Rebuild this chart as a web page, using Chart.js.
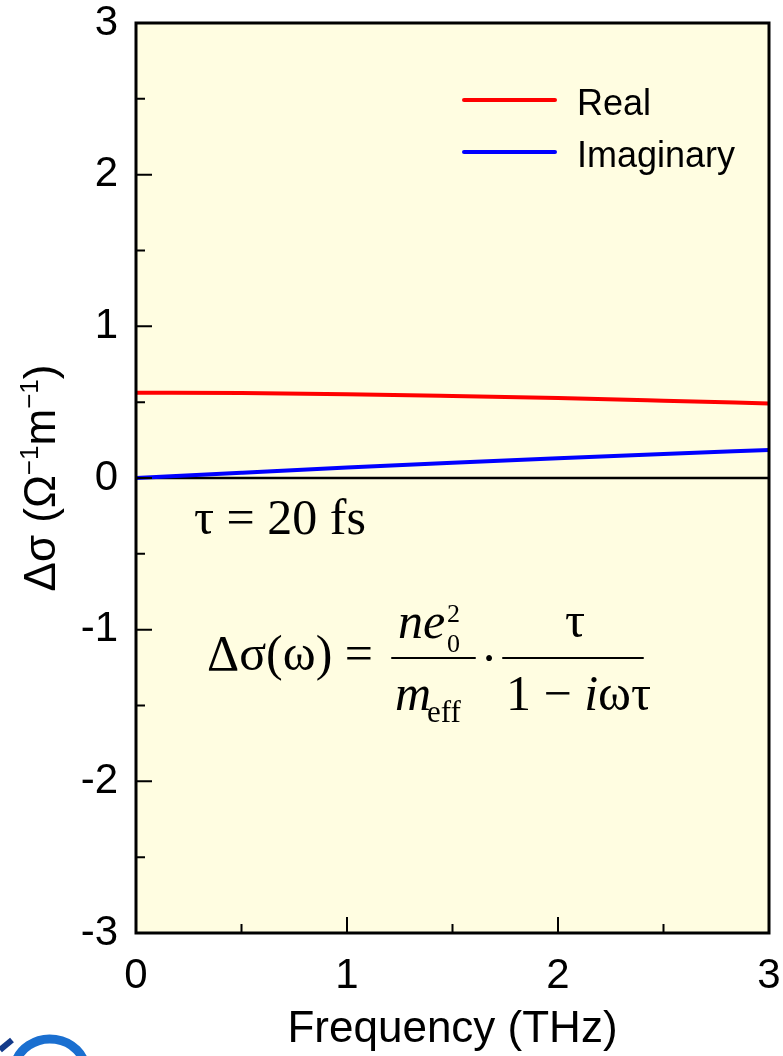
<!DOCTYPE html>
<html>
<head>
<meta charset="utf-8">
<script src="https://cdn.jsdelivr.net/npm/chart.js@4.4.0/dist/chart.umd.min.js"></script>
<style>
  html, body { margin: 0; padding: 0; background: #fff; }
  #wrap { width: 783px; height: 1056px; }
</style>
</head>
<body>
<div id="wrap"><canvas id="sigmaChart" width="783" height="1056"></canvas></div>
<script>
// Drude conductivity change, tau = 20 fs
const freqTHz = [0, 0.5, 1, 1.5, 2, 2.5, 3];
const realPart = [0.562, 0.560, 0.553, 0.541, 0.527, 0.510, 0.492];
const imagPart = [0.000, 0.035, 0.069, 0.101, 0.131, 0.159, 0.185];
const seriesLabels = ['Real', 'Imaginary'];
const seriesColors = ['#ff0000', '#0000ff'];

const xTickValues = [0, 1, 2, 3];
const yTickValues = [-3, -2, -1, 0, 1, 2, 3];
const xMinorTicks = [0.5, 1.5, 2.5];
const yMinorTicks = [-2.5, -1.5, -0.5, 0.5, 1.5, 2.5];

const SANS = '"Liberation Sans", Arial, sans-serif';
const SERIF = '"Liberation Serif", "Times New Roman", serif';

const toPoints = (xs, ys) => xs.map((x, i) => ({ x: x, y: ys[i] }));

// yellow plot background + zero line under the curves
const backdropPlugin = {
  id: 'backdrop',
  beforeDraw(chart) {
    const { ctx, chartArea: a } = chart;
    ctx.save();
    ctx.fillStyle = '#fffde1';
    ctx.fillRect(a.left, a.top, a.right - a.left, a.bottom - a.top);
    ctx.restore();
  },
  beforeDatasetsDraw(chart) {
    const { ctx, chartArea: a, scales } = chart;
    const y0 = scales.y.getPixelForValue(0);
    ctx.save();
    ctx.strokeStyle = '#000';
    ctx.lineWidth = 2.5;
    ctx.beginPath();
    ctx.moveTo(a.left, y0);
    ctx.lineTo(a.right, y0);
    ctx.stroke();
    ctx.restore();
  }
};

// box frame and inward ticks on left / bottom
const framePlugin = {
  id: 'frame',
  afterDatasetsDraw(chart) {
    const { ctx, chartArea: a, scales } = chart;
    ctx.save();
    ctx.strokeStyle = '#000';
    ctx.lineWidth = 2;
    ctx.beginPath();
    xTickValues.forEach(v => {
      const px = scales.x.getPixelForValue(v);
      ctx.moveTo(px, a.bottom); ctx.lineTo(px, a.bottom - 16);
    });
    xMinorTicks.forEach(v => {
      const px = scales.x.getPixelForValue(v);
      ctx.moveTo(px, a.bottom); ctx.lineTo(px, a.bottom - 9);
    });
    yTickValues.forEach(v => {
      const py = scales.y.getPixelForValue(v);
      ctx.moveTo(a.left, py); ctx.lineTo(a.left + 16, py);
    });
    yMinorTicks.forEach(v => {
      const py = scales.y.getPixelForValue(v);
      ctx.moveTo(a.left, py); ctx.lineTo(a.left + 9, py);
    });
    ctx.stroke();
    ctx.lineWidth = 3;
    ctx.strokeRect(a.left, a.top, a.right - a.left, a.bottom - a.top);
    ctx.restore();
  }
};

// legend, y title, annotations and formula
const textPlugin = {
  id: 'texts',
  afterDraw(chart) {
    const ctx = chart.ctx;
    ctx.save();
    ctx.fillStyle = '#000';

    // legend
    chart.data.datasets.forEach((ds, i) => {
      const ly = 100 + i * 52;
      ctx.strokeStyle = ds.borderColor;
      ctx.lineWidth = 4;
      ctx.lineCap = 'round';
      ctx.beginPath();
      ctx.moveTo(464, ly); ctx.lineTo(555, ly);
      ctx.stroke();
      ctx.font = '36px ' + SANS;
      ctx.textAlign = 'left';
      ctx.textBaseline = 'alphabetic';
      ctx.fillText(ds.label, 577, ly + 15);
    });

    // rotated y-axis title with superscripts
    const big = '44px ' + SANS, small = '26px ' + SANS;
    const parts = [
      ['Δσ (Ω', big, 0], ['−1', small, -17], ['m', big, 0], ['−1', small, -17], [')', big, 0]
    ];
    let total = 0;
    parts.forEach(p => { ctx.font = p[1]; total += ctx.measureText(p[0]).width; });
    ctx.translate(55, 478);
    ctx.rotate(-Math.PI / 2);
    let cx = -total / 2;
    parts.forEach(p => {
      ctx.font = p[1];
      ctx.fillText(p[0], cx, p[2]);
      cx += ctx.measureText(p[0]).width;
    });
    ctx.setTransform(1, 0, 0, 1, 0, 0);

    // tau annotation
    ctx.font = '50px ' + SERIF;
    ctx.fillText('τ = 20 fs', 194, 534);

    // Drude formula
    ctx.font = '50px ' + SERIF;
    ctx.fillText('Δσ(ω) =', 207, 670);
    ctx.font = 'italic 50px ' + SERIF;
    ctx.fillText('ne', 398, 638);
    ctx.font = '26px ' + SERIF;
    ctx.fillText('2', 447, 622);
    ctx.fillText('0', 447, 652);
    ctx.font = 'italic 50px ' + SERIF;
    ctx.fillText('m', 395, 710);
    ctx.font = '31px ' + SERIF;
    ctx.fillText('eff', 427, 722);
    ctx.font = '50px ' + SERIF;
    ctx.textAlign = 'center';
    ctx.fillText('·', 489, 675);
    ctx.fillText('τ', 575, 637);
    ctx.textAlign = 'left';
    ctx.fillText('1 −', 506, 710);
    let dx = 506 + ctx.measureText('1 − ').width;
    ctx.font = 'italic 50px ' + SERIF;
    ctx.fillText('i', dx, 710);
    dx += ctx.measureText('i').width;
    ctx.font = '50px ' + SERIF;
    ctx.fillText('ωτ', dx, 710);

    ctx.lineWidth = 2;
    ctx.strokeStyle = '#000';
    ctx.beginPath();
    ctx.moveTo(392, 658); ctx.lineTo(475, 658);
    ctx.moveTo(503, 658); ctx.lineTo(643, 658);
    ctx.stroke();

    // corner logo fragment
    ctx.lineCap = 'butt';
    ctx.strokeStyle = '#1a6fd0';
    ctx.lineWidth = 9;
    ctx.beginPath();
    ctx.ellipse(50, 1072, 36, 33, 0, Math.PI * 1.05, Math.PI * 1.98);
    ctx.stroke();
    ctx.strokeStyle = '#123a8a';
    ctx.lineWidth = 6;
    ctx.beginPath();
    ctx.moveTo(0, 1050); ctx.lineTo(12, 1040);
    ctx.stroke();

    ctx.restore();
  }
};

const ctx = document.getElementById('sigmaChart').getContext('2d');
new Chart(ctx, {
  type: 'line',
  data: {
    datasets: [
      {
        label: seriesLabels[0],
        data: toPoints(freqTHz, realPart),
        borderColor: seriesColors[0],
        borderWidth: 4,
        pointRadius: 0,
        cubicInterpolationMode: 'monotone',
        fill: false
      },
      {
        label: seriesLabels[1],
        data: toPoints(freqTHz, imagPart),
        borderColor: seriesColors[1],
        borderWidth: 4,
        pointRadius: 0,
        cubicInterpolationMode: 'monotone',
        fill: false
      }
    ]
  },
  options: {
    responsive: false,
    animation: false,
    devicePixelRatio: 1,
    layout: { padding: { top: 23, right: 14, left: 0, bottom: 0 } },
    plugins: {
      legend: { display: false },
      tooltip: { enabled: false }
    },
    scales: {
      x: {
        type: 'linear',
        min: 0,
        max: 3,
        afterFit(scale) {
          scale.height = 123;
          scale.paddingLeft = 0;
          scale.paddingRight = 0;
        },
        afterBuildTicks(scale) { scale.ticks = xTickValues.map(v => ({ value: v })); },
        grid: { display: false, drawTicks: false },
        border: { display: false },
        ticks: { color: '#000', padding: 18, font: { family: SANS, size: 42 } },
        title: {
          display: true,
          text: 'Frequency (THz)',
          color: '#000',
          font: { family: SANS, size: 44 },
          padding: { top: 0, bottom: 0 }
        }
      },
      y: {
        min: -3,
        max: 3,
        afterFit(scale) {
          scale.width = 136;
          scale.paddingTop = 0;
          scale.paddingBottom = 0;
        },
        afterBuildTicks(scale) { scale.ticks = yTickValues.map(v => ({ value: v })); },
        grid: { display: false, drawTicks: false },
        border: { display: false },
        ticks: { color: '#000', padding: 18, font: { family: SANS, size: 42 } }
      }
    }
  },
  plugins: [backdropPlugin, framePlugin, textPlugin]
});
</script>
</body>
</html>
